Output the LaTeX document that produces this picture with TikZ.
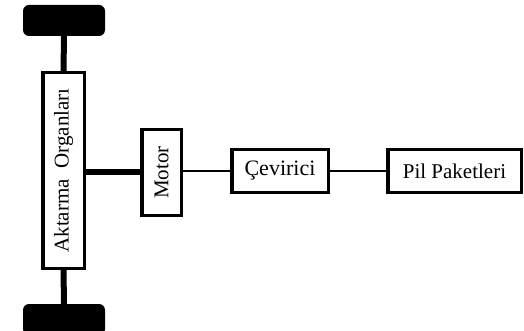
\documentclass[tikz,border=0pt]{standalone}
\usepackage{fontspec}
\setmainfont{Liberation Serif}
\begin{document}
\begin{tikzpicture}[x=1pt,y=-1pt,
  box/.style={draw=black,line width=3.5pt,fill=white,inner sep=0pt,font=\fontsize{21}{24}\selectfont},
  vtext/.style={rotate=90,font=\fontsize{21}{24}\selectfont},
  wheel/.style={fill=black,rounded corners=6pt,inner sep=0pt,minimum width=82pt,minimum height=31pt},
  axle/.style={line width=6pt},
  shaft/.style={line width=5pt},
  wire/.style={line width=1.5pt}]
\useasboundingbox (0,0) rectangle (524,331);
\clip (0,0) rectangle (524,331);
\node[wheel] (w1) at (64,20.5) {};
\node[wheel] (w2) at (64,319.5) {};
\node[box,minimum width=41.5pt,minimum height=195.5pt] (akt) at (63.5,170.5) {};
\node[vtext] (aktl) at (akt.center) {Aktarma\ \ Organları};
\node[box,minimum width=39.5pt,minimum height=85.5pt] (mot) at (161.5,172.5) {};
\node[vtext] (motl) at (mot.center) {Motor};
\node[box,minimum width=96.5pt,minimum height=42.5pt] (cev) at (280,171) {\fontsize{22}{24}\selectfont Çevirici};
\node[box,minimum width=133.5pt,minimum height=42.5pt] (pil) at (454.5,171) {Pil Paketleri};
\draw[axle] (w1.south) -- (akt.north);
\draw[axle] (akt.south) -- (w2.north);
\draw[shaft] (akt.east |- 0,172) -- (mot.west |- 0,172);
\draw[wire] (mot.east |- cev.west) -- (cev.west);
\draw[wire] (cev.east) -- (pil.west);
\end{tikzpicture}
\end{document}
